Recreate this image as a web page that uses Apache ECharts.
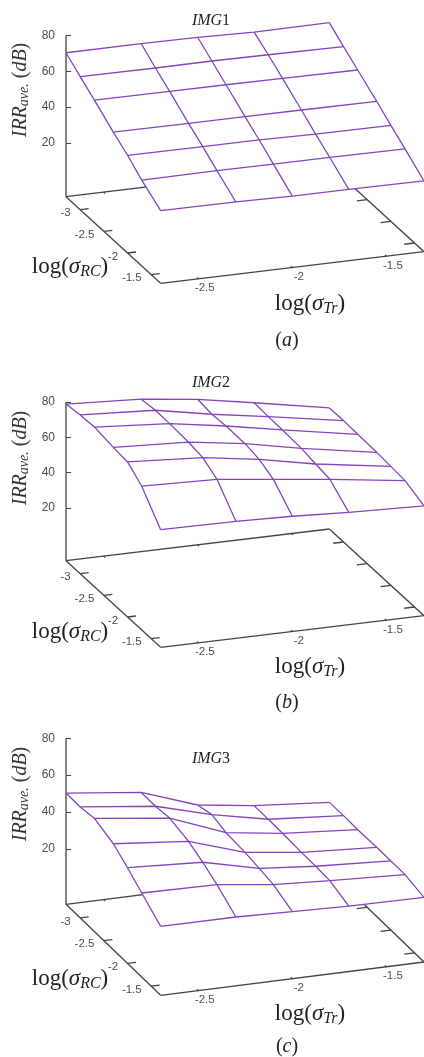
<!DOCTYPE html>
<html><head><meta charset="utf-8">
<style>html,body{margin:0;padding:0;background:#fff}#c{width:424px;height:1057px}</style>
<script src="https://cdn.jsdelivr.net/npm/echarts@6/dist/echarts.min.js"></script>
</head><body><div id="c"></div>
<script>
// DATA
const logTrValues = [-2.7, -2.3, -2, -1.7, -1.3];
const logRcValues = [-3.3, -3, -2.7, -2.3, -2, -1.7, -1.3];
const zTicks = [20, 40, 60, 80];
const trTicks = [-2.5, -2, -1.5];
const rcTicks = [-3, -2.5, -2, -1.5];
const img1 = [
  [70.4, 70.4, 70.2, 69.3, 69.5],
  [64.3, 64.1, 64.2, 63.9, 63.4],
  [58.5, 58.3, 58.2, 58.0, 57.6],
  [50.3, 50.1, 50.1, 50.0, 49.8],
  [44.6, 44.4, 44.3, 43.8, 43.6],
  [38.0, 38.2, 38.1, 38.0, 37.7],
  [30.6, 30.4, 29.9, 29.9, 29.5]
];
const img2 = [
  [78.9, 76.5, 72.6, 66.8, 58.7],
  [80.1, 77.6, 71.5, 66.3, 58.9],
  [80.6, 77.4, 72.2, 66.1, 58.5],
  [78.9, 76.7, 72.0, 65.5, 58.1],
  [78.0, 75.3, 70.5, 64.0, 57.5],
  [71.6, 70.4, 66.5, 62.7, 56.8],
  [56.8, 56.4, 55.4, 53.8, 52.3]
];
const img3 = [
  [50.3, 45.5, 34.8, 30.6, 27.2],
  [50.2, 45.4, 37.0, 30.6, 27.4],
  [51.4, 46.4, 34.6, 30.4, 27.2],
  [47.5, 43.6, 33.8, 29.9, 27.5],
  [41.9, 39.7, 32.5, 29.8, 27.5],
  [35.6, 35.0, 31.1, 29.4, 27.5],
  [27.4, 27.3, 26.3, 25.5, 25.0]
];
const titles = ['IMG', 'IMG', 'IMG'];
const titleNums = ['1', '2', '3'];
const captions = ['a', 'b', 'c'];

// View setup of each panel (oblique projection of the gnuplot box)
const RC_MIN = -3.3, RC_SPAN = 2, TR_MIN = -2.7, TR_SPAN = 1.4, Z_FLOOR = -10;
const panels = [
  {vals: img1, oy: 196.67, dyU: 86.67, dyV: -31.67, k: 1.79,  titleY: 21,  zLabelY: 90,  rcY: 267, trY: 304, capY: 341},
  {vals: img2, oy: 560.67, dyU: 86.67, dyV: -31.67, k: 1.762, titleY: 383, zLabelY: 458, rcY: 632, trY: 667, capY: 703},
  {vals: img3, oy: 904.33, dyU: 91,    dyV: -33.33, k: 1.845, titleY: 759, zLabelY: 794, rcY: 979, trY: 1014, capY: 1047}
];
const OX = 66, DXU = 94.67, DXV = 263.33;
const PURPLE = '#8544bb', AXIS = '#444444', LABEL = '#4d4d4d';
const NARROW = '"Liberation Sans Narrow","Liberation Sans",sans-serif';

const series = [], grids = [], xAxes = [], yAxes = [], graphics = [];
panels.forEach((p, g) => {
  const proj = (tr, rc, z) => {
    const u = (rc - RC_MIN) / RC_SPAN, v = (tr - TR_MIN) / TR_SPAN;
    return [u * DXU + v * DXV, z - (u * p.dyU + v * p.dyV) / p.k];
  };
  const top = p.oy - 190, bottom = p.oy + 100;
  grids.push({left: OX, width: 358, top, height: bottom - top});
  xAxes.push({gridIndex: g, type: 'value', min: 0, max: 358, show: false});
  yAxes.push({
    gridIndex: g, type: 'value', min: Z_FLOOR - 100 / p.k, max: Z_FLOOR + 190 / p.k,
    axisLine: {show: false}, splitLine: {show: false},
    axisTick: {show: true, inside: true, length: 5, customValues: zTicks, lineStyle: {color: AXIS, width: 1.1}},
    axisLabel: {show: true, customValues: zTicks, margin: 11, color: LABEL, fontSize: 12, fontFamily: NARROW}
  });
  const base = {xAxisIndex: g, yAxisIndex: g, silent: true, animation: false, clip: false};
  // floor box and z axis
  const seg = (t1, r1, z1, t2, r2, z2) => proj(t1, r1, z1).concat(proj(t2, r2, z2));
  const trEnd = TR_MIN + TR_SPAN, rcEnd = RC_MIN + RC_SPAN;
  const segs = [
    seg(TR_MIN, RC_MIN, Z_FLOOR, TR_MIN, RC_MIN, 80),
    seg(TR_MIN, RC_MIN, Z_FLOOR, TR_MIN, rcEnd, Z_FLOOR),
    seg(TR_MIN, rcEnd, Z_FLOOR, trEnd, rcEnd, Z_FLOOR),
    seg(trEnd, rcEnd, Z_FLOOR, trEnd, RC_MIN, Z_FLOOR),
    seg(trEnd, RC_MIN, Z_FLOOR, TR_MIN, RC_MIN, Z_FLOOR)
  ];
  rcTicks.forEach(r => {
    segs.push(seg(TR_MIN, r, Z_FLOOR, TR_MIN + 0.045, r, Z_FLOOR));
    segs.push(seg(trEnd, r, Z_FLOOR, trEnd - 0.055, r, Z_FLOOR));
  });
  trTicks.forEach(t => {
    segs.push(seg(t, rcEnd, Z_FLOOR, t, rcEnd - 0.03, Z_FLOOR));
    segs.push(seg(t, RC_MIN, Z_FLOOR, t, RC_MIN + 0.03, Z_FLOOR));
  });
  series.push(Object.assign({}, base, {
    type: 'custom', z: 1, data: segs, encode: {x: 0, y: 1},
    renderItem: (params, api) => {
      const a = api.coord([api.value(0), api.value(1)]), b = api.coord([api.value(2), api.value(3)]);
      return {type: 'line', shape: {x1: a[0], y1: a[1], x2: b[0], y2: b[1]}, style: {stroke: AXIS, lineWidth: 1.3}};
    }
  }));
  // floor tick labels
  const labelSeries = (pts, align, dx, dy) => Object.assign({}, base, {
    type: 'custom', z: 4, data: pts.map(q => [q[0][0], q[0][1], q[1]]), encode: {x: 0, y: 1},
    renderItem: (params, api) => {
      const c = api.coord([api.value(0), api.value(1)]);
      return {type: 'text', x: c[0] + dx, y: c[1] + dy, style: {
        text: String(api.value(2)), fill: LABEL, fontSize: 11.5, fontFamily: NARROW, align, verticalAlign: 'middle'}};
    }
  });
  series.push(labelSeries(rcTicks.map(r => [proj(TR_MIN, r, Z_FLOOR), r]), 'right', -9.5, 3.5));
  series.push(labelSeries(trTicks.map(t => [proj(t, rcEnd, Z_FLOOR), t]), 'center', 6.5, 9.3));
  // white surface (hides what lies behind it)
  const quads = [];
  for (let i = 0; i < logRcValues.length - 1; i++) for (let j = 0; j < logTrValues.length - 1; j++) {
    quads.push([
      ...proj(logTrValues[j], logRcValues[i], p.vals[i][j]),
      ...proj(logTrValues[j + 1], logRcValues[i], p.vals[i][j + 1]),
      ...proj(logTrValues[j + 1], logRcValues[i + 1], p.vals[i + 1][j + 1]),
      ...proj(logTrValues[j], logRcValues[i + 1], p.vals[i + 1][j])
    ]);
  }
  series.push(Object.assign({}, base, {
    type: 'custom', z: 2, data: quads, encode: {x: 0, y: 1},
    renderItem: (params, api) => {
      const pts = [0, 2, 4, 6].map(n => api.coord([api.value(n), api.value(n + 1)]));
      return {type: 'polygon', shape: {points: pts}, style: {fill: '#fff', stroke: '#fff', lineWidth: 0.5}};
    }
  }));
  // wireframe lines
  const lineStyle = {color: PURPLE, width: 1.3};
  const addLine = pts => series.push(Object.assign({}, base, {type: 'line', z: 3, symbol: 'none', lineStyle, data: pts}));
  logRcValues.forEach((r, i) => addLine(logTrValues.map((t, j) => proj(t, r, p.vals[i][j]))));
  logTrValues.forEach((t, j) => addLine(logRcValues.map((r, i) => proj(t, r, p.vals[i][j]))));
  // texts
  const serif = '"Liberation Serif","DejaVu Serif",serif';
  const richOf = (big, small, pad, col) => ({
    b: {fontFamily: serif, fontSize: big, fontStyle: 'normal', fill: col},
    i: {fontFamily: serif, fontSize: big, fontStyle: 'italic', fill: col},
    s: {fontFamily: serif, fontSize: small, fontStyle: 'italic', fill: col, padding: [pad, 0, 0, 0]}
  });
  const txt = (x, y, text, rich, extra) => graphics.push(Object.assign({type: 'text', x, y, silent: true, z: 10, style: {
    text, fill: '#222', fontFamily: serif, fontSize: 15, align: 'center', verticalAlign: 'middle', rich}}, extra || {}));
  txt(211, p.titleY, '{i|' + titles[g] + '}{b|' + titleNums[g] + '}', richOf(16, 12, 0, '#222'));
  txt(20.5, p.zLabelY, '{i|IRR}{s|ave.}{b| (}{i|dB}{b|)}', richOf(20, 14, 8, '#333'), {rotation: Math.PI / 2});
  txt(70, p.rcY, '{b|log(}{i|σ}{s|RC}{b|)}', richOf(23, 16, 10, '#222'));
  txt(310, p.trY, '{b|log(}{i|σ}{s|Tr}{b|)}', richOf(23, 16, 10, '#222'));
  txt(287, p.capY, '{b|(}{i|' + captions[g] + '}{b|)}', richOf(20, 14, 0, '#222'));
});

const chart = echarts.init(document.getElementById('c'), null, {renderer: 'canvas'});
chart.setOption({animation: false, backgroundColor: '#fff', grid: grids, xAxis: xAxes, yAxis: yAxes, series, graphic: {elements: graphics}});
</script></body></html>
